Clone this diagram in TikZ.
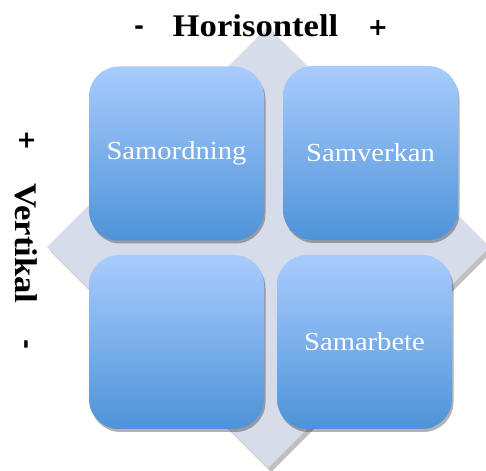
\documentclass[tikz,border=0pt]{standalone}
\usepackage{fontspec}
\setmainfont{Liberation Serif}[FakeStretch=1.1]
\newfontfamily\signfont{DejaVu Sans}
\usetikzlibrary{shadows}
\definecolor{diam}{HTML}{D6DCE9}
\definecolor{boxtop}{HTML}{A9CCFD}
\definecolor{boxbot}{HTML}{4E93D8}
\tikzset{
  quad/.style={minimum width=175pt, minimum height=174pt, rounded corners=30pt,
    top color=boxtop, bottom color=boxbot, draw=none, inner sep=0pt,
    text=white, font=\fontsize{26}{30}\selectfont,
    drop shadow={shadow xshift=1.5pt, shadow yshift=-3pt, opacity=0.3, fill=black}},
  axis/.style={font=\bfseries\fontsize{31.5}{34}\selectfont, inner sep=0pt},
  sign/.style={font=\signfont\bfseries\fontsize{24}{28}\selectfont, inner sep=0pt}
}
\begin{document}
\begin{tikzpicture}[x=1pt,y=1pt]
\useasboundingbox (0,0) rectangle (486,470);
% diamond background
\fill[diam, drop shadow={shadow xshift=3pt, shadow yshift=-4pt, opacity=0.25, fill=black}]
  (268,443) coordinate (dt) -- (490,223) coordinate (dr) -- (268,2) coordinate (db) -- (47,223) coordinate (dl) -- cycle;
% quadrants
\node[quad] (tl) at (176.5,316.5) {Samordning};
\node[quad] (tr) at (370.5,317) {Samverkan};
\node[quad] (bl) at (176.5,128) {};
\node[quad] (br) at (364.5,128) {Samarbete};
% axis labels
\node[axis, anchor=base] (hor) at (255.5,433) {Horisontell};
\node[sign, anchor=base] (hminus) at (139,435) {-};
\node[sign, anchor=base] (hplus) at (378,434) {+};
\node[axis, rotate=-90, anchor=base] (ver) at (15,226.5) {Vertikal};
\node[sign, rotate=-90, anchor=base] (vplus) at (19,329) {+};
\node[sign, rotate=-90, anchor=base] (vminus) at (19,126) {-};
\end{tikzpicture}
\end{document}
